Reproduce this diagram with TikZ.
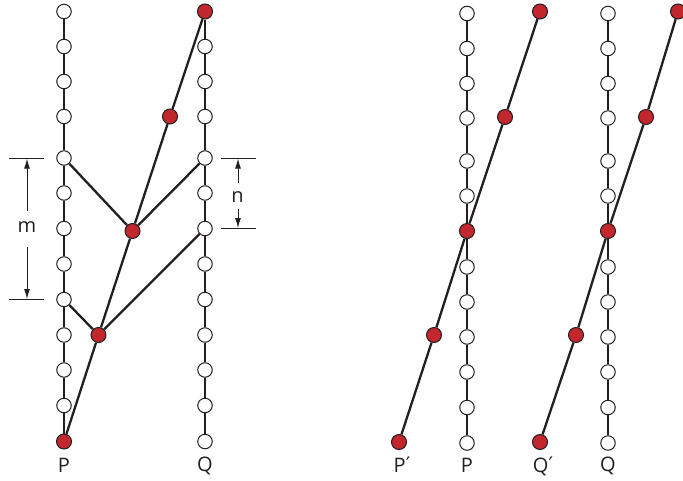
\documentclass[tikz,border=0pt]{standalone}
\usepackage{fontspec}
\setmainfont{Open Sans}
\newfontfamily\primefont{DejaVu Sans}
\usetikzlibrary{arrows.meta}
\definecolor{dotred}{HTML}{C1272D}
\definecolor{ink}{HTML}{231F20}
\newcommand{\pr}{{\primefont\fontsize{20}{24}\selectfont\raisebox{1pt}{′}}}
\begin{document}
\begin{tikzpicture}[x=1pt,y=-1pt,
  wdot/.style={circle,draw=ink,line width=1pt,fill=white,minimum size=14.5pt,inner sep=0pt},
  rdot/.style={circle,draw=ink,line width=1pt,fill=dotred,minimum size=15pt,inner sep=0pt},
  col/.style={draw=ink,line width=2.4pt},
  conn/.style={draw=ink,line width=2.3pt},
  tick/.style={draw=ink,line width=1pt},
  dimarrow/.style={draw=ink,line width=1pt,-{Latex[length=10pt,width=6pt]}},
  lab/.style={font=\fontsize{20}{24}\selectfont,text=ink,inner sep=0pt}]
\useasboundingbox (0,0) rectangle (683,480);
% ---------- left panel columns ----------
\foreach \i/\y in {0/11.5,1/46.5,2/81.5,3/116.5,4/158,5/193,6/228.5,7/264,8/299.5,9/335,10/370,11/405.5,12/441.5}{
  \ifnum\i=12
    \node[rdot] (lp\i) at (64,\y) {};
  \else
    \node[wdot] (lp\i) at (64,\y) {};
  \fi
  \ifnum\i=0
    \node[rdot] (lq\i) at (205,\y) {};
  \else
    \node[wdot] (lq\i) at (205,\y) {};
  \fi
}
% ---------- right panel columns ----------
\foreach \i/\y in {0/13.5,1/48.5,2/83.5,3/118,4/161,5/196,6/231,7/267,8/302,9/337,10/372,11/407.5,12/443}{
  \ifnum\i=6
    \node[rdot] (rp\i) at (467,\y) {};
    \node[rdot] (rq\i) at (608,\y) {};
  \else
    \node[wdot] (rp\i) at (467,\y) {};
    \node[wdot] (rq\i) at (608,\y) {};
  \fi
}
\foreach \i in {0,...,11}{
  \pgfmathtruncatemacro{\j}{\i+1}
  \draw[col] (lp\i) -- (lp\j);
  \draw[col] (lq\i) -- (lq\j);
  \draw[col] (rp\i) -- (rp\j);
  \draw[col] (rq\i) -- (rq\j);
}
% ---------- left panel red path ----------
\node[rdot] (a1) at (98.5,335) {};
\node[rdot] (a2) at (132.5,231) {};
\node[rdot] (a3) at (170,116.5) {};
\draw[conn] (lp12) -- (a1) -- (a2) -- (a3) -- (lq0);
\draw[conn] (lp4) -- (a2) -- (lq4);
\draw[conn] (lp8) -- (a1) -- (lq6);
% ---------- right panel red paths ----------
\node[rdot] (pp) at (399,442) {};
\node[rdot] (b1) at (434,335) {};
\node[rdot] (b3) at (505,117) {};
\node[rdot] (b4) at (540,11.5) {};
\draw[conn] (pp) -- (b1) -- (rp6) -- (b3) -- (b4);
\node[rdot] (qq) at (540,442) {};
\node[rdot] (c1) at (576,335) {};
\node[rdot] (c3) at (646,117) {};
\node[rdot] (c4) at (678,11.5) {};
\draw[conn] (qq) -- (c1) -- (rq6) -- (c3) -- (c4);
% ---------- dimension m ----------
\coordinate (m1a) at (9,158);  \coordinate (m1b) at (44,158);
\coordinate (m2a) at (9,299.5);  \coordinate (m2b) at (44,299.5);
\draw[tick] (m1a) -- (m1b);
\draw[tick] (m2a) -- (m2b);
\node[lab] (mlab) at (27,227) {m};
\coordinate (mu1) at (27,211); \coordinate (mu2) at (27,158.5);
\coordinate (md1) at (27,247); \coordinate (md2) at (27,299);
\draw[dimarrow] (mu1) -- (mu2);
\draw[dimarrow] (md1) -- (md2);
% ---------- dimension n ----------
\coordinate (n1a) at (221,158); \coordinate (n1b) at (256,158);
\coordinate (n2a) at (221,228.5); \coordinate (n2b) at (256,228.5);
\draw[tick] (n1a) -- (n1b);
\draw[tick] (n2a) -- (n2b);
\node[lab] (nlab) at (237.5,197) {n};
\coordinate (nu1) at (238,183); \coordinate (nu2) at (238,158.5);
\coordinate (nd1) at (238,209); \coordinate (nd2) at (238,228);
\draw[dimarrow] (nu1) -- (nu2);
\draw[dimarrow] (nd1) -- (nd2);
% ---------- labels ----------
\node[lab] (lP) at (64,465) {P};
\node[lab] (lQ) at (205,466) {Q};
\node[lab] (rPp) at (402,465) {P\pr};
\node[lab] (rP) at (467,465) {P};
\node[lab] (rQp) at (543,466) {Q\pr};
\node[lab] (rQ) at (608,466) {Q};
\end{tikzpicture}
\end{document}
